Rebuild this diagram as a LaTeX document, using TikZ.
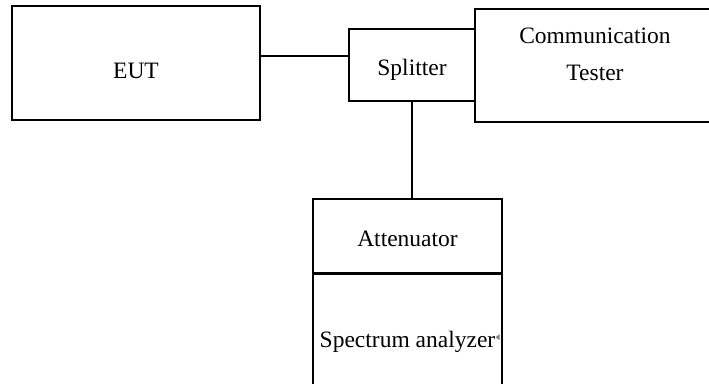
\documentclass[tikz,border=0pt]{standalone}
\usepackage{fontspec}
\setmainfont{Liberation Serif}
\usetikzlibrary{positioning}
\begin{document}
\begin{tikzpicture}[x=1pt,y=-1pt,line width=1.2pt,font=\fontsize{23.5}{37}\selectfont,
	box/.style={draw,inner sep=0pt,rectangle,text height=20pt,text depth=0pt},
	lbl/.style={inner sep=0pt,align=center}]
	\useasboundingbox (0,0) rectangle (709,383);
	\node[box,minimum width=248,minimum height=114] at (136,63) (eut) {};
	\node[lbl] at (136,71) (euttext) {EUT};
	\node[box,minimum width=126,minimum height=72] at (412,65) (splitter) {Splitter};
	\node[box,minimum width=240,minimum height=113] at (595,65.5) (comm) {};
	\node[lbl,below=19pt of comm.north] (commtext) {Communication\\Tester};
	\node[box,minimum width=189,minimum height=74] at (407.5,236) (att) {Attenuator};
	\node[box,minimum width=189,minimum height=126,below=0pt of att] (spec) {Spectrum analyzer};

	\draw		([yshift=7pt]eut.east) -- ([yshift=7pt]eut.east -| splitter.west);
	\draw		(splitter.south) -- (splitter.south |- att.north);
	\fill[gray]	([xshift=-3pt,yshift=3pt]spec.east) -- ([xshift=-7pt]spec.east) -- ([xshift=-3pt,yshift=-3pt]spec.east) -- cycle;
\end{tikzpicture}
\end{document}
